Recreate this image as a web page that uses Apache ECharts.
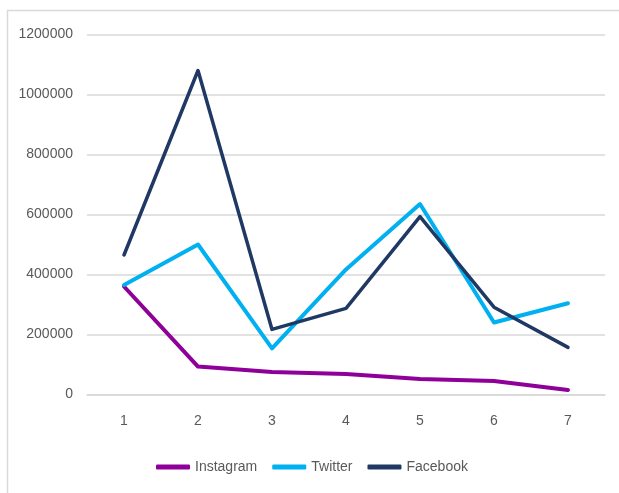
<!DOCTYPE html>
<html>
<head>
<meta charset="utf-8">
<script src="https://cdn.jsdelivr.net/npm/echarts@6/dist/echarts.min.js"></script>
<style>
  html, body { margin: 0; padding: 0; background: #fff; }
  #chart { width: 619px; height: 493px; }
</style>
</head>
<body>
<div id="chart"></div>
<script>
const categories = ['1', '2', '3', '4', '5', '6', '7']
const instagram = [360000, 93000, 75000, 68000, 52000, 45000, 15000]
const twitter = [365000, 500000, 154000, 417000, 635000, 240000, 304000]
const facebook = [465000, 1080000, 217000, 287000, 593000, 291000, 157000]

const font = '"Liberation Sans", Arial, sans-serif'
const labelColor = '#595959'
const gridColor = '#d9d9d9'

const echart = echarts.init(document.getElementById('chart'))

function line(name, data, color, width) {
  return {
    name: name,
    type: 'line',
    data: data,
    symbol: 'none',
    smooth: false,
    lineStyle: { color: color, width: width, cap: 'round', join: 'round' },
    itemStyle: { color: color }
  }
}

echart.setOption({
  animation: false,
  graphic: [{
    type: 'rect',
    shape: { x: 7.5, y: 10.5, width: 700, height: 600 },
    style: { fill: 'none', stroke: gridColor, lineWidth: 1.5 }
  }],
  grid: { left: 87, right: 14, top: 34.5, bottom: 98.5 },
  legend: {
    left: 151,
    top: 455,
    icon: 'roundRect',
    itemWidth: 34,
    itemHeight: 5,
    itemGap: 15,
    textStyle: { color: labelColor, fontFamily: font, fontSize: 14 },
    data: ['Instagram', 'Twitter', 'Facebook']
  },
  xAxis: {
    type: 'category',
    data: categories,
    boundaryGap: true,
    axisTick: { show: false },
    axisLine: { lineStyle: { color: gridColor, width: 1.5 } },
    axisLabel: { color: labelColor, fontFamily: font, fontSize: 14, margin: 20 }
  },
  yAxis: {
    type: 'value',
    min: 0,
    max: 1200000,
    interval: 200000,
    axisLine: { show: false },
    axisTick: { show: false },
    splitLine: { lineStyle: { color: gridColor, width: 1.5 } },
    axisLabel: {
      color: labelColor, fontFamily: font, fontSize: 14, margin: 14,
      formatter: v => String(v)
    }
  },
  series: [
    line('Instagram', instagram, '#8e0099', 4),
    line('Twitter', twitter, '#00b0f0', 4),
    line('Facebook', facebook, '#1f3864', 3.5)
  ]
})
</script>
</body>
</html>
